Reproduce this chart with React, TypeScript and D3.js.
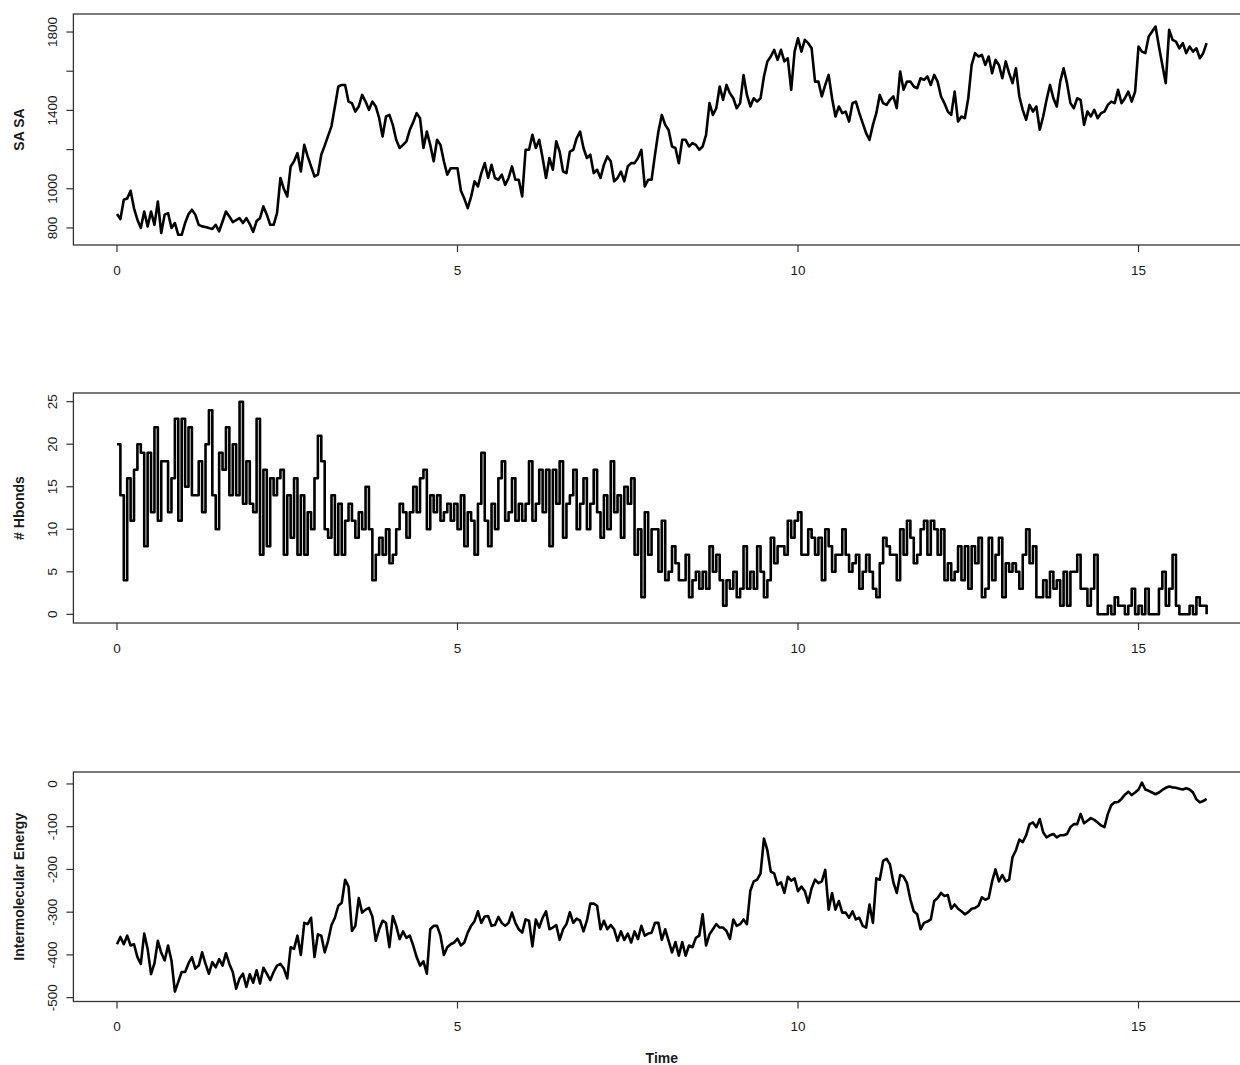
import React from 'react';
import * as d3 from 'd3';

// sampling grid, every 0.05 time units
const time = d3.range(321).map(i => +(i * 0.05).toFixed(2));

const sasa = [
  871, 845, 944, 950, 990, 900, 842, 800, 884, 808,
  884, 816, 935, 774, 868, 876, 800, 825, 765, 765,
  825, 870, 893, 868, 816, 808, 805, 800, 795, 816,
  783, 833, 884, 859, 830, 840, 850, 825, 850, 820,
  780, 835, 850, 910, 868, 816, 816, 876, 1055, 1000,
  960, 1114, 1140, 1182, 1088, 1224, 1165, 1114, 1063, 1072,
  1174, 1220, 1270, 1320, 1420, 1522, 1530, 1530, 1445, 1437,
  1394, 1420, 1479, 1445, 1403, 1445, 1420, 1360, 1267, 1369,
  1377, 1326, 1250, 1208, 1224, 1242, 1301, 1340, 1386, 1360,
  1208, 1292, 1224, 1140, 1250, 1224, 1140, 1072, 1105, 1105,
  1105, 990, 950, 901, 960, 1038, 1012, 1080, 1131, 1055,
  1122, 1055, 1046, 1072, 1020, 1055, 1114, 1046, 1046, 961,
  1199, 1199, 1275, 1208, 1250, 1157, 1055, 1157, 1097, 1242,
  1190, 1088, 1080, 1190, 1199, 1258, 1292, 1208, 1157, 1174,
  1080, 1097, 1055, 1122, 1165, 1140, 1038, 1055, 1088, 1038,
  1114, 1131, 1131, 1157, 1199, 1012, 1046, 1046, 1174, 1292,
  1377,
  1326, 1300, 1216, 1208, 1130, 1250, 1250, 1216, 1233, 1224,
  1199, 1216, 1275, 1437, 1377, 1411, 1522, 1454, 1530, 1488,
  1462, 1411, 1437, 1580, 1479, 1420, 1462, 1445, 1462, 1573,
  1650, 1675, 1709, 1658, 1709, 1650, 1666, 1505, 1700, 1768,
  1700, 1760, 1743, 1717, 1547, 1547, 1471, 1530, 1581, 1462,
  1369, 1420, 1386, 1394, 1343, 1437, 1445, 1386, 1335, 1284,
  1250, 1326, 1386, 1479, 1437, 1428, 1454, 1471, 1411, 1598,
  1505, 1547, 1547, 1522, 1513, 1564, 1556, 1573, 1530, 1581,
  1547, 1471, 1437, 1394, 1377, 1496, 1343, 1369, 1360, 1462,
  1632, 1692, 1675, 1683, 1632, 1675, 1590, 1658, 1632, 1564,
  1650, 1590, 1539, 1615, 1471, 1403, 1352, 1428, 1394, 1420,
  1301, 1369, 1454, 1530, 1462, 1420, 1547, 1615, 1539, 1437,
  1411, 1462, 1454, 1326, 1394, 1369, 1403, 1360, 1386, 1394,
  1428, 1445, 1437, 1505, 1437, 1462, 1496, 1445, 1496, 1726,
  1700, 1692, 1777, 1803, 1828, 1726, 1632, 1539, 1811, 1760,
  1751, 1717, 1743, 1692, 1726, 1700, 1717, 1666, 1692, 1743,
];

const hbonds = [
  20, 14, 4, 16, 11, 17, 20, 19, 8, 19,
  12, 22, 11, 18, 18, 12, 16, 23, 11, 23,
  15, 22, 14, 14, 18, 12, 20, 24, 14, 10,
  19, 17, 22, 14, 20, 14, 25, 13, 18, 13,
  12, 23, 7, 17, 8, 16, 14, 16, 17, 7,
  14, 9, 16, 7, 14, 7, 12, 10, 16, 21,
  18, 10, 9, 14, 7, 13, 7, 11, 13, 11,
  9, 12, 10, 15, 10, 4, 7, 9, 7, 10,
  6, 7, 10, 13, 12, 9, 12, 15, 12, 16,
  17, 10, 14, 12, 14, 11, 12, 13, 11, 13,
  10, 14, 8, 12, 11, 7, 13, 19, 11, 8,
  13, 10, 16, 18, 11, 12, 16, 11, 13, 11,
  13, 18, 11, 13, 17, 12, 17, 8, 17, 13,
  18, 9, 13, 14, 17, 10, 13, 16, 10, 13,
  17, 12, 9, 14, 10, 18, 12, 14, 9, 15,
  13, 16, 7, 10, 2, 12, 7, 10, 10, 5,
  11,
  4, 5, 8, 6, 4, 4, 7, 2, 4, 5,
  3, 5, 3, 8, 5, 7, 4, 1, 4, 3,
  5, 2, 3, 8, 3, 5, 3, 8, 5, 2,
  4, 9, 6, 8, 8, 7, 11, 9, 11, 12,
  7, 7, 10, 9, 7, 9, 4, 10, 8, 5,
  7, 7, 10, 7, 5, 6, 7, 3, 5, 7,
  5, 3, 2, 6, 9, 8, 7, 7, 4, 10,
  7, 11, 9, 6, 7, 10, 11, 7, 11, 10,
  7, 10, 4, 6, 4, 5, 8, 4, 8, 3,
  8, 6, 9, 2, 3, 9, 4, 7, 9, 2,
  6, 5, 6, 5, 3, 7, 10, 6, 8, 2,
  2, 4, 2, 5, 3, 4, 1, 5, 1, 5,
  5, 7, 3, 3, 1, 3, 7, 0, 0, 0,
  1, 0, 2, 1, 1, 0, 1, 3, 0, 1,
  0, 3, 0, 0, 0, 3, 5, 1, 3, 7,
  1, 0, 0, 0, 1, 0, 2, 1, 1, 0,
];

const energy = [
  -375, -358, -375, -355, -378, -375, -405, -421, -350, -386,
  -445, -420, -367, -395, -413, -378, -413, -486, -463, -440,
  -440, -420, -405, -432, -425, -394, -421, -444, -417, -429,
  -410, -425, -396, -421, -440, -479, -455, -444, -475, -445,
  -465, -436, -467, -430, -444, -459, -440, -425, -421, -432,
  -455, -382, -386, -355, -400, -325, -328, -313, -405, -352,
  -355, -394, -367, -330, -313, -285, -278, -224, -240, -344,
  -332, -267, -301, -294, -290, -310, -367, -340, -320, -325,
  -382, -309, -332, -363, -345, -360, -355, -378, -405, -425,
  -415, -444, -340, -332, -332, -355, -400, -382, -375, -371,
  -362, -378, -371, -348, -332, -321, -298, -325, -310, -309,
  -332, -330, -311, -325, -332, -325, -301, -325, -340, -348,
  -317, -320, -380, -317, -336, -313, -298, -340, -336, -330,
  -365, -340, -328, -300, -325, -315, -320, -345, -320, -280,
  -280, -285, -340, -320, -340, -330, -340, -367, -345, -365,
  -350, -371, -345, -363, -332, -355, -350, -348, -325, -325,
  -365,
  -340, -367, -394, -370, -402, -370, -402, -378, -382, -360,
  -355, -305, -378, -352, -340, -328, -336, -336, -344, -363,
  -317, -332, -328, -317, -328, -250, -228, -224, -209, -128,
  -155, -205, -209, -236, -230, -255, -217, -226, -221, -251,
  -240, -251, -278, -244, -224, -232, -228, -201, -294, -255,
  -294, -274, -301, -301, -313, -298, -317, -313, -332, -336,
  -282, -325, -221, -224, -180, -175, -188, -230, -255, -213,
  -217, -232, -270, -298, -305, -340, -325, -322, -317, -274,
  -267, -255, -262, -260, -292, -282, -292, -298, -305, -300,
  -292, -290, -285, -265, -271, -267, -228, -200, -228, -213,
  -228, -224, -171, -155, -130, -136, -120, -94, -90, -101,
  -82, -113, -125, -120, -117, -125, -120, -120, -117, -101,
  -94, -94, -70, -92, -86, -80, -84, -90, -97, -101,
  -70, -50, -43, -42, -35, -25, -18, -26, -20, -13,
  3, -13, -16, -20, -24, -20, -14, -9, -6, -8,
  -9, -11, -13, -10, -13, -20, -36, -43, -40, -35,
];

const xTicks = [0, 5, 10, 15];
const sasaTicks = [800, 1000, 1200, 1400, 1600, 1800];
const sasaLabels = [800, 1000, 1400, 1800];
const hbondTicks = [0, 5, 10, 15, 20, 25];
const energyTicks = [-500, -400, -300, -200, -100, 0];

const W = 1240;
const H = 1065;
const FONT = '"Liberation Sans", Arial, sans-serif';
const INK = '#1a1a1a';

const x = d3.scaleLinear().domain([-0.64, 16.64]).range([73.4, 1250.2]);

// hbond counts are integers sampled densely, so they read as steps
const panels = [
  { title: 'SA SA', values: sasa, domain: [713, 1892], top: 14, bottom: 245, ticks: sasaTicks, labels: sasaLabels, curve: d3.curveLinear },
  { title: '# Hbonds', values: hbonds, domain: [-1.02, 26.02], top: 393, bottom: 623, ticks: hbondTicks, labels: hbondTicks, curve: d3.curveStepAfter },
  { title: 'Intermolecular Energy', values: energy, domain: [-509, 28], top: 772, bottom: 1001.5, ticks: energyTicks, labels: energyTicks, curve: d3.curveLinear },
];

const Panel = ({ p }: { p: typeof panels[number] }) => {
  const y = d3.scaleLinear().domain(p.domain).range([p.bottom, p.top]);
  const line = d3.line<number>()
    .x((_, i) => x(time[i]))
    .y(d => y(d))
    .curve(p.curve);
  const [x0, x1] = x.range();
  const midY = (p.top + p.bottom) / 2;

  return (
    <g>
      <path d={line(p.values) || ''} fill="none" stroke="#000" strokeWidth={2.6} strokeLinejoin="round" />
      <rect x={x0} y={p.top} width={x1 - x0} height={p.bottom - p.top} fill="none" stroke="#333" strokeWidth={1.3} />

      {/* y axis */}
      {p.ticks.map(t => (
        <line key={'yt' + t} x1={x0 - 7} x2={x0} y1={y(t)} y2={y(t)} stroke="#333" strokeWidth={1.2} />
      ))}
      {p.labels.map(t => (
        <text key={'yl' + t} transform={`translate(52,${y(t)}) rotate(-90)`} dy="0.35em"
          textAnchor="middle" fontSize={13.5} fill={INK}>{t}</text>
      ))}
      <text transform={`translate(19,${midY}) rotate(-90)`} dy="0.35em" textAnchor="middle"
        fontSize={14} fontWeight="bold" fill={INK}>{p.title}</text>

      {/* x axis */}
      {xTicks.map(t => (
        <g key={'xt' + t}>
          <line x1={x(t)} x2={x(t)} y1={p.bottom} y2={p.bottom + 7} stroke="#333" strokeWidth={1.2} />
          <text x={x(t)} y={p.bottom + 25} dy="0.35em" textAnchor="middle" fontSize={13.5} fill={INK}>{t}</text>
        </g>
      ))}
    </g>
  );
};

export default function App() {
  const [x0, x1] = x.range();
  return (
    <svg width={W} height={H} style={{ position: 'absolute', left: 0, top: 0, background: '#fff' }}
      fontFamily={FONT}>
      {panels.map(p => <Panel key={p.title} p={p} />)}
      <text x={(x0 + x1) / 2} y={1058} dy="0.35em" textAnchor="middle" fontSize={14} fontWeight="bold" fill={INK}>Time</text>
    </svg>
  );
}
